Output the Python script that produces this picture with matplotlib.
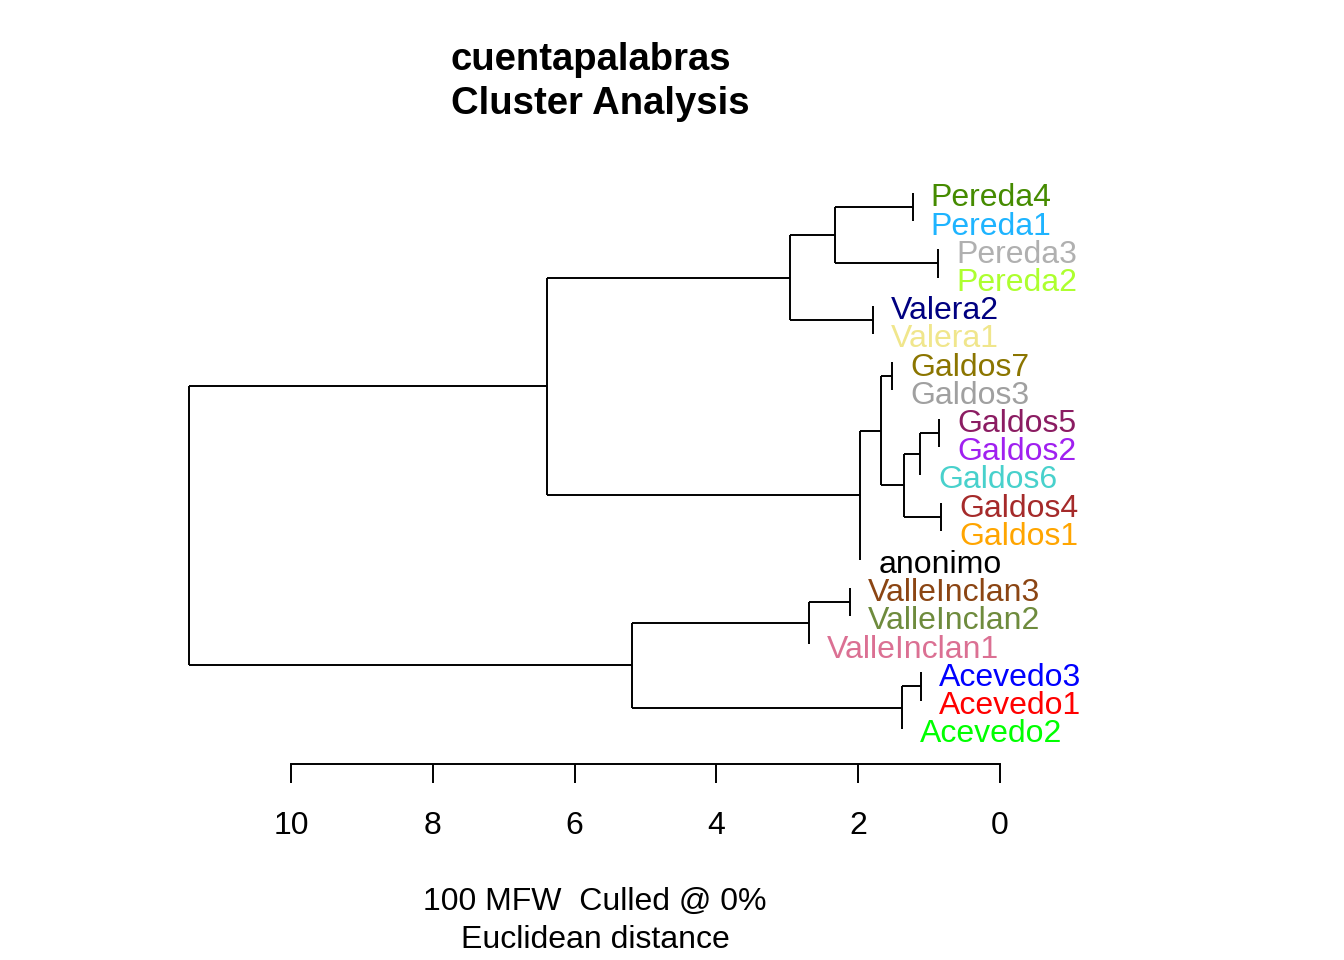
import matplotlib
matplotlib.use('Agg')
import matplotlib.pyplot as plt

plt.rcParams['font.family'] = ['Liberation Sans', 'DejaVu Sans']

# leaves, top to bottom as drawn
labels = ['Pereda4', 'Pereda1', 'Pereda3', 'Pereda2', 'Valera2', 'Valera1',
          'Galdos7', 'Galdos3', 'Galdos5', 'Galdos2', 'Galdos6', 'Galdos4',
          'Galdos1', 'anonimo', 'ValleInclan3', 'ValleInclan2', 'ValleInclan1',
          'Acevedo3', 'Acevedo1', 'Acevedo2']
colors = ['#458B00', '#1EB4FF', '#B0B0B0', '#ADFF2F', '#000080', '#F0E68C',
          '#8B7500', '#A0A0A0', '#8B1C62', '#A020F0', '#48D1CC', '#A52A2A',
          '#FFA500', '#000000', '#8B4513', '#6E8B3D', '#DB7093',
          '#0000FF', '#FF0000', '#00FF00']

# merges, hclust style: negative = leaf index (1-based), positive = earlier merge
merge_a = [-1, -3, 1, -5, 3, -7, -9, 7, -12, 8, 6, 11, 5, -15, 14, -18, 16, 15, 13]
merge_b = [-2, -4, 2, -6, 4, -8, -10, -11, -13, 9, 10, -14, 12, -16, -17, -19, -20, 17, 18]
heights = [1.23, 0.87, 2.33, 1.79, 2.96, 1.52, 0.86, 1.13, 0.83, 1.35, 1.68,
           1.97, 6.39, 2.12, 2.69, 1.11, 1.38, 5.19, 11.44]

ticks = [10, 8, 6, 4, 2, 0]

fig = plt.figure(figsize=(13.44, 9.6), dpi=100)
ax = fig.add_axes([0, 0, 1, 1])
ax.set_xlim(14.104, -4.852)
ax.set_ylim(27.2, -6.84)

node_y = []


def ypos(i):
    if i < 0:
        return -i - 1
    return node_y[i - 1]


for a, b, h in zip(merge_a, merge_b, heights):
    ya, yb = ypos(a), ypos(b)
    ax.plot([h, h], [ya, yb], color='black', lw=1.4, solid_capstyle='butt')
    for c, yc in ((a, ya), (b, yb)):
        if c > 0:
            ax.plot([h, heights[c - 1]], [yc, yc], color='black', lw=1.4,
                    solid_capstyle='butt')
        else:
            ax.annotate(labels[-c - 1], xy=(h, yc), xytext=(13, -4),
                        textcoords='offset points', va='center', ha='left',
                        fontsize=23, color=colors[-c - 1])
    node_y.append((ya + yb) / 2)

for s in ['top', 'left', 'right']:
    ax.spines[s].set_visible(False)
ax.spines['bottom'].set_position(('data', 20.25))
ax.spines['bottom'].set_bounds(0, 10)
ax.spines['bottom'].set_linewidth(1.4)
ax.set_xticks(ticks)
ax.set_xticklabels([str(t) for t in ticks])
ax.tick_params(axis='x', direction='out', length=13.7, width=1.4,
               labelsize=23, pad=20)
ax.set_yticks([])
ax.patch.set_visible(False)

fig.text(451 / 1344, 1 - 82 / 960, 'cuentapalabras\nCluster Analysis',
         ha='left', va='center', fontsize=27.5, fontweight='bold',
         linespacing=1.3)
fig.text(595 / 1344, 1 - 921 / 960, '100 MFW  Culled @ 0%\nEuclidean distance',
         ha='center', va='center', fontsize=23, linespacing=1.35)

fig.savefig('out.png', dpi=100)
